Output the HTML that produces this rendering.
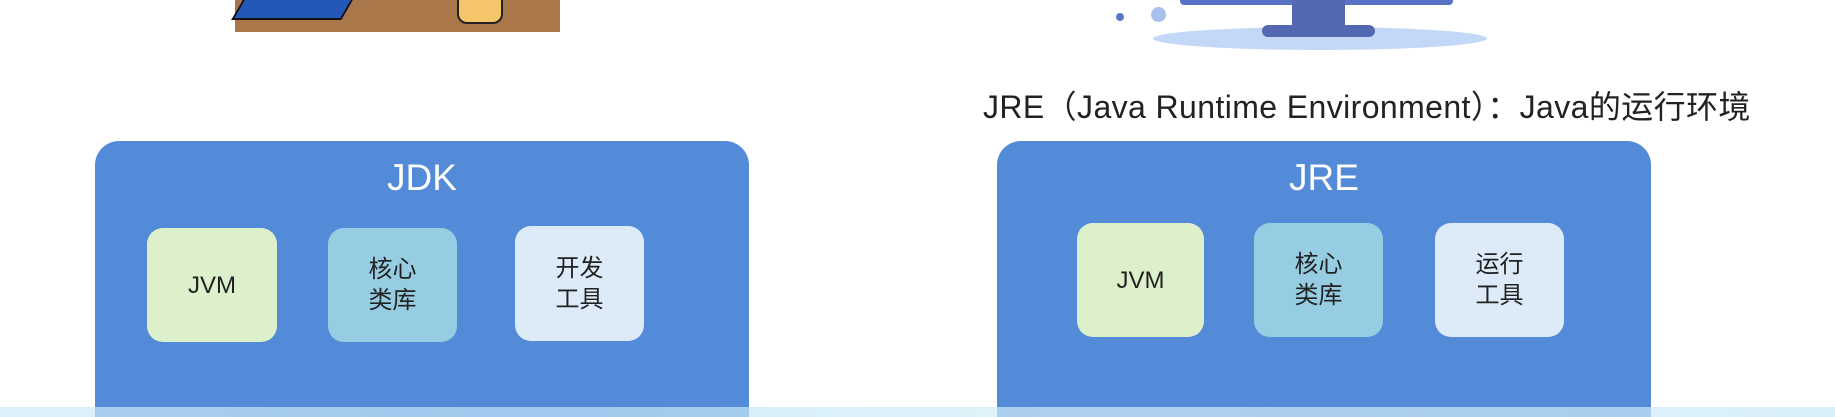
<!DOCTYPE html>
<html style="overflow:hidden;width:1835px;height:417px"><head><meta charset="utf-8"><style>
*{margin:0;padding:0;box-sizing:border-box}
body{width:1835px;height:417px;background:#fff;position:relative;overflow:hidden;font-family:"Liberation Sans","Noto Sans CJK SC",sans-serif}
.a{position:absolute}
.big{background:#548bd8;border-radius:24px 24px 0 0;height:276px;top:141px}
.t{color:#fff;font-size:37px;text-align:center;width:100%;top:16px;position:absolute}
.s{position:absolute;border-radius:16px;display:flex;align-items:center;justify-content:center;text-align:center;color:#222;font-size:24px;line-height:31px}
.g{background:#dcf1cb}.c{background:#97cde3}.w{background:#ddebf8}
</style></head><body>
<div class="a" style="left:235px;top:0;width:325px;height:32px;background:#a9774a"></div>
<div class="a" style="left:237px;top:0;width:110px;height:20px;background:#2457b8;border:2px solid #111;border-top:none;transform:skewX(-30deg)"></div>
<div class="a" style="left:457px;top:0;width:46px;height:24px;background:#f5c56b;border:2px solid #222;border-top:none;border-radius:0 0 10px 10px"></div>
<div class="a" style="left:1153px;top:27px;width:334px;height:23px;background:#c3d8f6;border-radius:50%"></div>
<div class="a" style="left:1180px;top:0;width:273px;height:5px;background:#5a72c6;border-radius:0 0 4px 4px"></div>
<div class="a" style="left:1292px;top:0;width:53px;height:28px;background:#5467b3"></div>
<div class="a" style="left:1262px;top:25px;width:113px;height:12px;background:#5467b3;border-radius:6px"></div>
<div class="a" style="left:1116px;top:13px;width:8px;height:8px;background:#5a78c8;border-radius:50%"></div>
<div class="a" style="left:1151px;top:7px;width:15px;height:15px;background:#a9c0ec;border-radius:50%"></div>
<div class="a" style="left:983px;top:82px;font-size:32px;letter-spacing:0.4px;color:#222;white-space:nowrap">JRE（Java Runtime Environment）：Java的运行环境</div>
<div class="a big" style="left:95px;width:654px"><div class="t">JDK</div></div>
<div class="s g" style="left:147px;top:228px;width:130px;height:114px">JVM</div>
<div class="s c" style="left:328px;top:228px;width:129px;height:114px">核心<br>类库</div>
<div class="s w" style="left:515px;top:226px;width:129px;height:115px">开发<br>工具</div>
<div class="a big" style="left:997px;width:654px"><div class="t">JRE</div></div>
<div class="s g" style="left:1077px;top:223px;width:127px;height:114px">JVM</div>
<div class="s c" style="left:1254px;top:223px;width:129px;height:114px">核心<br>类库</div>
<div class="s w" style="left:1435px;top:223px;width:129px;height:114px">运行<br>工具</div>
<div class="a" style="left:0;top:407px;width:1835px;height:10px;background:linear-gradient(90deg,#cfeaf8,#bfe4f6 30%,#d6eef9 60%,#c8e8f7);opacity:.7"></div>
</body></html>
